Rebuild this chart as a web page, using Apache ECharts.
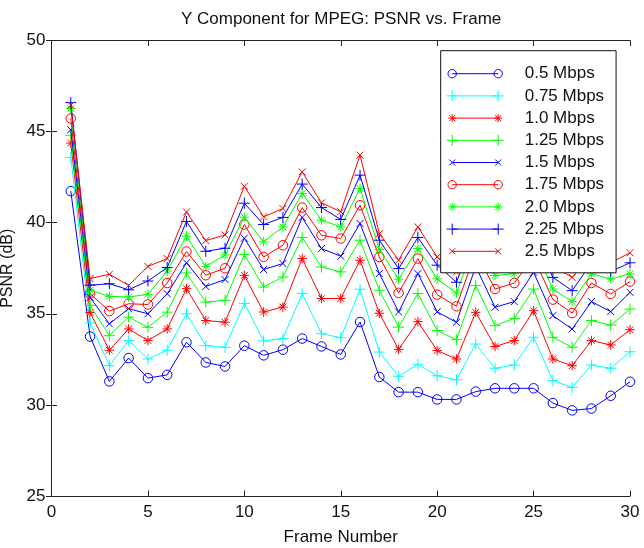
<!DOCTYPE html>
<html><head><meta charset="utf-8">
<script src="https://cdn.jsdelivr.net/npm/echarts@6/dist/echarts.min.js"></script>
<style>html,body{margin:0;padding:0;background:#fff}#c{width:644px;height:548px}</style>
</head><body><div id="c"></div>
<script>
const frames = [1,2,3,4,5,6,7,8,9,10,11,12,13,14,15,16,17,18,19,20,21,22,23,24,25,26,27,28,29,30];
const seriesNames = ['0.5 Mbps','0.75 Mbps','1.0 Mbps','1.25 Mbps','1.5 Mbps','1.75 Mbps','2.0 Mbps','2.25 Mbps','2.5 Mbps'];
const psnr050 = [41.73,33.75,31.29,32.57,31.47,31.65,33.44,32.33,32.11,33.25,32.72,33.03,33.64,33.21,32.77,34.55,31.53,30.70,30.70,30.30,30.30,30.73,30.91,30.91,30.91,30.10,29.70,29.80,30.50,31.27];
const psnr075 = [43.58,34.50,32.15,33.53,32.52,33.00,35.00,33.25,33.16,35.57,33.51,33.64,36.12,33.91,33.69,36.35,32.90,31.57,32.23,31.60,31.38,33.34,32.01,32.19,33.71,31.33,30.96,32.19,32.01,32.92];
const psnr100 = [44.37,35.07,33.00,34.17,33.53,34.17,36.38,34.63,34.54,37.11,35.10,35.37,38.03,35.84,35.84,37.94,35.03,33.05,34.57,32.98,32.52,35.08,33.21,33.53,35.17,32.52,32.15,33.53,33.29,34.13];
const psnr125 = [44.80,35.46,33.80,34.82,34.26,35.09,37.24,35.64,35.74,38.25,36.47,37.02,39.19,37.57,37.30,39.04,36.29,34.27,36.11,34.08,33.58,36.55,34.35,34.75,36.36,33.71,33.16,34.63,34.38,35.26];
const psnr150 = [45.10,35.90,34.45,35.28,35.00,36.10,37.80,36.50,36.88,39.15,37.43,37.76,40.29,38.58,38.16,39.96,37.21,35.10,37.21,35.11,34.53,37.60,35.36,35.67,37.28,34.90,34.16,35.67,35.12,36.18];
const psnr175 = [45.72,36.10,35.15,35.55,35.51,36.69,38.42,37.12,37.50,39.90,38.12,38.76,40.83,39.31,39.13,40.96,38.12,36.15,38.03,36.05,35.41,38.40,36.36,36.69,38.10,35.78,35.04,36.69,36.09,36.77];
const psnr200 = [46.27,36.30,35.96,35.92,36.07,37.35,39.26,37.60,38.23,40.30,38.95,39.77,41.60,40.14,39.77,41.88,38.53,36.90,38.58,36.92,36.14,39.00,37.10,37.20,38.70,36.36,35.67,37.19,36.91,37.19];
const psnr225 = [46.59,36.57,36.65,36.32,36.80,37.54,40.07,38.43,38.60,41.07,39.90,40.29,42.12,40.83,40.18,42.61,39.04,37.48,39.19,37.67,36.73,39.50,37.70,37.80,39.20,37.00,36.27,37.80,37.32,37.80];
const psnr250 = [46.45,36.93,37.17,36.56,37.60,38.03,40.59,39.02,39.33,42.00,40.32,40.78,42.79,41.09,40.60,43.71,39.40,37.94,39.77,38.12,37.30,40.00,38.20,38.30,39.70,37.60,37.00,38.30,37.80,38.35];
const xTicks = {min: 0, max: 30, interval: 5};
const yTicks = {min: 25, max: 50, interval: 5};

const allValues = [psnr050, psnr075, psnr100, psnr125, psnr150, psnr175, psnr200, psnr225, psnr250];
const colors = ['#0000ff','#00ffff','#ff0000','#00ff00','#0000ff','#ff0000','#00ff00','#0000ff','#ff0000'];
const markerKinds = ['o','+','*','+','x','o','*','+','x'];

const SYM = {
  'o': 'circle',
  '+': 'path://M5,0L5,10M0,5L10,5',
  'x': 'path://M0,0L10,10M0,10L10,0',
  '*': 'path://M5,0L5,10M0,5L10,5M1.5,1.5L8.5,8.5M1.5,8.5L8.5,1.5'
};
const SIZE = {'o': 9.5, '+': 11, 'x': 7, '*': 9.5};

function marker(kind, cx) {
  const f = v => v.toFixed(2);
  if (kind === 'o') { const r = 4.2; return 'M' + f(cx - r) + ',5.5A4.2,4.2,0,1,1,' + f(cx + r) + ',5.5A4.2,4.2,0,1,1,' + f(cx - r) + ',5.5'; }
  if (kind === '+') return 'M' + f(cx) + ',0L' + f(cx) + ',11M' + f(cx - 5.5) + ',5.5L' + f(cx + 5.5) + ',5.5';
  if (kind === 'x') return 'M' + f(cx - 3) + ',2.5L' + f(cx + 3) + ',8.5M' + f(cx - 3) + ',8.5L' + f(cx + 3) + ',2.5';
  return 'M' + f(cx) + ',1.5L' + f(cx) + ',9.5M' + f(cx - 4) + ',5.5L' + f(cx + 4) + ',5.5M' + f(cx - 3) + ',2.5L' + f(cx + 3) + ',8.5M' + f(cx - 3) + ',8.5L' + f(cx + 3) + ',2.5';
}
function legendIcon(kind) {
  return 'path://M0,0M73,11M5.5,5.5L51.5,5.5' + marker(kind, 5.5) + marker(kind, 51.5);
}

const FONT = 'Liberation Sans, Arial, Helvetica, sans-serif';
const TXT = '#111';

const series = seriesNames.map((name, i) => ({
  name: name,
  type: 'line',
  data: frames.map((f, j) => [f, allValues[i][j]]),
  symbol: SYM[markerKinds[i]],
  symbolSize: SIZE[markerKinds[i]],
  showSymbol: true,
  clip: false,
  silent: true,
  animation: false,
  lineStyle: {color: colors[i], width: 1},
  itemStyle: {color: 'rgba(0,0,0,0)', borderColor: colors[i], borderWidth: 1},
  emphasis: {disabled: true},
  z: 2 + i
}));

const axisLine = {show: true, lineStyle: {color: '#222', width: 1}};
const tickIn = {show: true, inside: true, length: 5.5, lineStyle: {color: '#222', width: 1}};

const option = {
  backgroundColor: '#fff',
  animation: false,
  title: {
    text: 'Y Component for MPEG: PSNR vs. Frame',
    left: 181, top: 11, padding: 0,
    textStyle: {fontFamily: FONT, fontSize: 17, fontWeight: 'normal', color: TXT}
  },
  grid: {left: 51.5, right: 14, top: 40.5, bottom: 52, containLabel: false, outerBoundsMode: 'none', show: false},
  legend: {
    orient: 'vertical',
    left: 440.7, top: 50.7,
    padding: [14.5, 12, 13, 5.5],
    itemGap: 5.2,
    itemWidth: 73, itemHeight: 11,
    symbolKeepAspect: true,
    backgroundColor: '#fff',
    borderColor: '#111', borderWidth: 1, borderRadius: 0,
    selectedMode: false,
    textStyle: {fontFamily: FONT, fontSize: 17, lineHeight: 14, color: TXT},
    data: seriesNames.map((name, i) => ({
      name: name,
      icon: legendIcon(markerKinds[i]),
      itemStyle: {color: 'rgba(0,0,0,0)', borderColor: colors[i], borderWidth: 1}
    })),
    z: 20
  },
  xAxis: [
    {type: 'value', position: 'bottom', min: xTicks.min, max: xTicks.max, interval: xTicks.interval,
     axisLine: axisLine, axisTick: tickIn, splitLine: {show: false},
     axisLabel: {margin: 8, fontFamily: FONT, fontSize: 17, color: TXT},
     name: 'Frame Number', nameLocation: 'middle', nameGap: 33,
     nameTextStyle: {fontFamily: FONT, fontSize: 17, color: TXT}},
    {type: 'value', position: 'top', min: xTicks.min, max: xTicks.max, interval: xTicks.interval,
     axisLine: axisLine, axisTick: tickIn, splitLine: {show: false}, axisLabel: {show: false}}
  ],
  yAxis: [
    {type: 'value', position: 'left', min: yTicks.min, max: yTicks.max, interval: yTicks.interval,
     axisLine: axisLine, axisTick: tickIn, splitLine: {show: false},
     axisLabel: {margin: 6, fontFamily: FONT, fontSize: 17, color: TXT},
     name: 'PSNR (dB)', nameLocation: 'middle', nameGap: 30,
     nameTextStyle: {fontFamily: FONT, fontSize: 16, color: TXT}},
    {type: 'value', position: 'right', min: yTicks.min, max: yTicks.max, interval: yTicks.interval,
     axisLine: axisLine, axisTick: tickIn, splitLine: {show: false}, axisLabel: {show: false}}
  ],
  series: series
};

const chart = echarts.init(document.getElementById('c'), null, {renderer: 'canvas'});
chart.setOption(option);
</script>
</body></html>
